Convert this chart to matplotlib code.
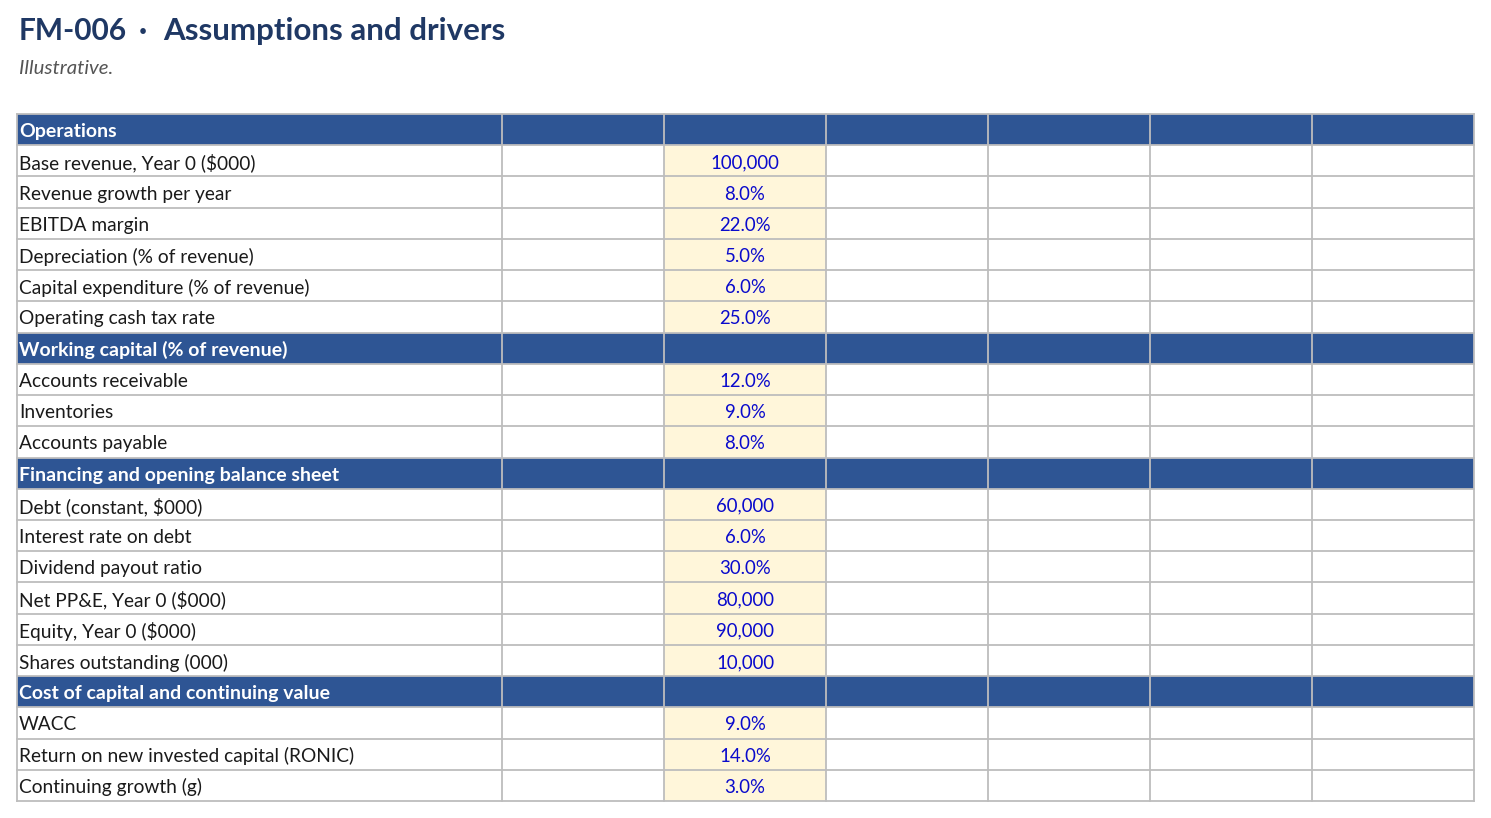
import matplotlib.pyplot as plt
from matplotlib.patches import Rectangle

plt.rcParams['font.family'] = ['Lato', 'DejaVu Sans']

title_code = "FM-006"
title_text = "Assumptions and drivers"
subtitle = "Illustrative."

# rows: (label, value); value None marks a section header
row_labels = [
    "Operations",
    "Base revenue, Year 0 ($000)",
    "Revenue growth per year",
    "EBITDA margin",
    "Depreciation (% of revenue)",
    "Capital expenditure (% of revenue)",
    "Operating cash tax rate",
    "Working capital (% of revenue)",
    "Accounts receivable",
    "Inventories",
    "Accounts payable",
    "Financing and opening balance sheet",
    "Debt (constant, $000)",
    "Interest rate on debt",
    "Dividend payout ratio",
    "Net PP&E, Year 0 ($000)",
    "Equity, Year 0 ($000)",
    "Shares outstanding (000)",
    "Cost of capital and continuing value",
    "WACC",
    "Return on new invested capital (RONIC)",
    "Continuing growth (g)",
]
row_values = [
    None, "100,000", "8.0%", "22.0%", "5.0%", "6.0%", "25.0%",
    None, "12.0%", "9.0%", "8.0%",
    None, "60,000", "6.0%", "30.0%", "80,000", "90,000", "10,000",
    None, "9.0%", "14.0%", "3.0%",
]

W, H = 1491, 818
fig = plt.figure(figsize=(W / 100, H / 100), dpi=100)
ax = fig.add_axes([0, 0, 1, 1])
ax.set_xlim(0, W)
ax.set_ylim(H, 0)
ax.axis('off')

# column edges in pixels
col_edges = [17, 502, 664, 826, 988, 1150, 1312, 1474]
top, bottom = 114, 801
n = len(row_labels)
rh = (bottom - top) / n

header_fill = "#2e5594"
input_fill = "#fff6da"
grid_col = "#bdbdbd"
input_text = "#0a0acc"

for i, (lab, val) in enumerate(zip(row_labels, row_values)):
    y0 = top + i * rh
    yc = y0 + rh / 2 + 2
    if val is None:
        ax.add_patch(Rectangle((col_edges[0], y0), col_edges[-1] - col_edges[0], rh,
                               facecolor=header_fill, edgecolor='none', zorder=1))
        ax.text(col_edges[0] + 2, yc, lab, color='white', fontsize=14,
                fontweight='bold', va='center', ha='left', zorder=3)
    else:
        ax.add_patch(Rectangle((col_edges[2], y0), col_edges[3] - col_edges[2], rh,
                               facecolor=input_fill, edgecolor='none', zorder=1))
        ax.text(col_edges[0] + 2, yc, lab, color='#1a1a1a', fontsize=13.75,
                va='center', ha='left', zorder=3)
        ax.text((col_edges[2] + col_edges[3]) / 2, yc, val, color=input_text,
                fontsize=13.4, va='center', ha='center', zorder=3)

# grid lines
for i in range(n + 1):
    y = top + i * rh
    ax.plot([col_edges[0], col_edges[-1]], [y, y], color=grid_col, lw=1.3, zorder=2)
for x in col_edges:
    ax.plot([x, x], [top, bottom], color=grid_col, lw=1.3, zorder=2)

navy = "#1f3864"
ax.text(19, 31, title_code, color=navy, fontsize=21.5, fontweight='bold', va='center', ha='left')
ax.text(143, 31, "\u00b7", color=navy, fontsize=21.5, fontweight='bold', va='center', ha='center')
ax.text(163, 31, title_text, color=navy, fontsize=22.5, fontweight='bold', va='center', ha='left')
ax.text(19, 69, subtitle, color="#555555", fontsize=14.7, style='italic', va='center', ha='left')

fig.savefig("out.png", dpi=100)
